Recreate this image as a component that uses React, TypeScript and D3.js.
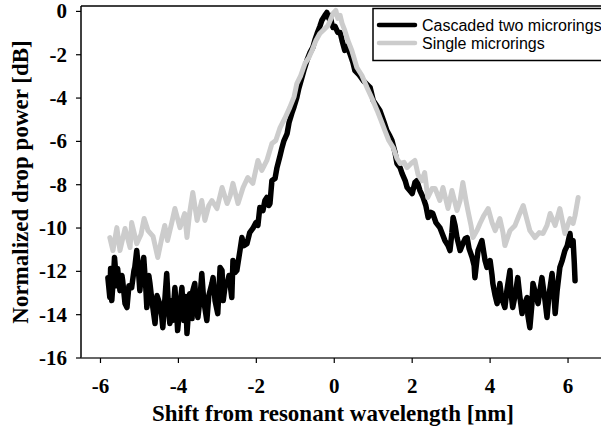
import React from "react";
import * as d3 from "d3";

// [shift nm, normalized drop power dB]
const cascaded: [number, number][] = [
  [-5.81, -12.29], [-5.76, -13.21], [-5.74, -11.87], [-5.71, -13.35], [-5.66, -12.06], [-5.64, -11.36],
  [-5.58, -12.66], [-5.56, -11.87], [-5.5, -12.89], [-5.45, -12.19], [-5.43, -12.43], [-5.37, -13.49],
  [-5.32, -13.67], [-5.27, -12.66], [-5.2, -12.75], [-5.14, -11.96], [-5.12, -11.82], [-5.07, -11.04],
  [-5.04, -11.59], [-4.99, -12.89], [-4.94, -11.96], [-4.89, -11.36], [-4.84, -12.66], [-4.81, -13.67],
  [-4.76, -12.19], [-4.73, -12.56], [-4.68, -13.35], [-4.6, -14.41], [-4.55, -13.12], [-4.48, -13.49],
  [-4.43, -14.04], [-4.4, -14.6], [-4.35, -13.35], [-4.3, -12.1], [-4.25, -13.81], [-4.22, -14.41],
  [-4.17, -13.35], [-4.15, -14.27], [-4.09, -12.75], [-4.04, -14.04], [-4.02, -14.73], [-3.96, -13.58],
  [-3.91, -12.75], [-3.86, -14.27], [-3.81, -13.16], [-3.78, -14.87], [-3.73, -13.58], [-3.71, -13.03],
  [-3.65, -14.18], [-3.63, -12.89], [-3.58, -12.56], [-3.53, -13.81], [-3.5, -14.13], [-3.45, -13.35],
  [-3.4, -12.1], [-3.35, -13.35], [-3.27, -14.27], [-3.22, -13.12], [-3.14, -12.56], [-3.11, -12.29],
  [-3.06, -13.35], [-2.99, -13.95], [-2.93, -11.82], [-2.88, -11.96], [-2.85, -13.35], [-2.8, -12.66],
  [-2.75, -12.56], [-2.7, -12.19], [-2.63, -13.21], [-2.6, -11.5], [-2.55, -12.06], [-2.5, -11.96],
  [-2.42, -11.04], [-2.37, -10.44], [-2.32, -10.81], [-2.24, -10.72], [-2.17, -10.21], [-2.09, -10.02],
  [-2.01, -9.75], [-1.96, -9.88], [-1.91, -9.05], [-1.83, -9.19], [-1.78, -8.73], [-1.73, -8.59],
  [-1.68, -8.96], [-1.65, -8.87], [-1.6, -7.81], [-1.52, -7.71], [-1.47, -7.21], [-1.39, -6.65],
  [-1.34, -6.28], [-1.29, -5.96], [-1.21, -5.64], [-1.16, -5.13], [-1.09, -4.71], [-1.03, -4.39],
  [-0.96, -3.97], [-0.91, -3.56], [-0.83, -3.05], [-0.78, -2.73], [-0.7, -2.26], [-0.62, -1.89],
  [-0.55, -1.66], [-0.5, -1.34], [-0.44, -1.02], [-0.37, -0.69], [-0.32, -0.42], [-0.24, -0.18],
  [-0.19, -0.05], [-0.14, -0.32], [-0.11, -0.18], [-0.06, -0.6], [-0.03, -0.74], [0.02, -0.69],
  [0.09, -0.97], [0.15, -0.97], [0.2, -1.34], [0.27, -1.8], [0.33, -1.62], [0.4, -1.94],
  [0.48, -2.36], [0.53, -2.73], [0.63, -2.91], [0.74, -3.19], [0.84, -3.37], [0.92, -3.51],
  [1.0, -4.11], [1.07, -4.3], [1.17, -4.57], [1.28, -5.13], [1.35, -5.5], [1.43, -5.77],
  [1.48, -5.96], [1.56, -6.51], [1.61, -7.02], [1.69, -7.21], [1.74, -7.48], [1.82, -7.81],
  [1.87, -8.13], [1.94, -8.27], [2.0, -8.41], [2.07, -7.9], [2.12, -7.81], [2.2, -8.27],
  [2.28, -8.59], [2.35, -8.96], [2.41, -9.51], [2.48, -9.28], [2.53, -9.33], [2.61, -9.75],
  [2.71, -9.98], [2.79, -10.35], [2.84, -10.58], [2.92, -10.81], [2.97, -11.04], [3.02, -10.21],
  [3.05, -9.51], [3.1, -9.88], [3.15, -10.44], [3.2, -10.81], [3.23, -11.04], [3.3, -10.72],
  [3.36, -10.49], [3.41, -10.44], [3.46, -10.95], [3.54, -11.36], [3.59, -11.73], [3.61, -12.29],
  [3.66, -11.5], [3.69, -11.04], [3.74, -10.81], [3.79, -10.58], [3.87, -11.5], [3.92, -11.82],
  [3.97, -11.59], [4.0, -11.5], [4.05, -12.19], [4.07, -12.56], [4.13, -13.12], [4.18, -13.49],
  [4.23, -12.89], [4.25, -12.56], [4.3, -13.26], [4.38, -13.67], [4.43, -12.89], [4.51, -11.96],
  [4.53, -12.89], [4.58, -13.67], [4.64, -13.12], [4.71, -12.29], [4.76, -13.12], [4.82, -13.95],
  [4.87, -13.58], [4.95, -13.21], [4.97, -14.04], [5.02, -14.6], [5.07, -13.58], [5.1, -12.56],
  [5.18, -13.12], [5.23, -13.49], [5.28, -12.89], [5.33, -12.29], [5.41, -13.35], [5.46, -14.13],
  [5.51, -13.12], [5.59, -12.1], [5.64, -13.12], [5.67, -13.95], [5.72, -12.89], [5.79, -11.82],
  [5.85, -11.5], [5.92, -11.04], [5.98, -10.81], [6.05, -10.25], [6.08, -10.81], [6.13, -10.58],
  [6.16, -11.59], [6.18, -12.43],
];

const single: [number, number][] = [
  [-5.76, -10.44], [-5.68, -11.04], [-5.58, -9.98], [-5.5, -11.04], [-5.37, -10.02], [-5.24, -10.9],
  [-5.2, -9.75], [-5.07, -10.72], [-4.96, -10.3], [-4.88, -9.56], [-4.78, -10.12], [-4.65, -10.39],
  [-4.53, -11.36], [-4.43, -10.49], [-4.35, -9.88], [-4.28, -10.58], [-4.17, -9.75], [-4.09, -9.1],
  [-3.96, -9.98], [-3.84, -9.33], [-3.78, -10.44], [-3.71, -9.28], [-3.63, -8.36], [-3.52, -9.65],
  [-3.4, -8.73], [-3.32, -9.65], [-3.22, -8.96], [-3.14, -8.73], [-3.01, -9.1], [-2.88, -8.13],
  [-2.75, -8.87], [-2.67, -8.5], [-2.6, -7.94], [-2.47, -8.87], [-2.34, -8.13], [-2.22, -7.67],
  [-2.09, -7.94], [-1.96, -6.88], [-1.86, -7.34], [-1.73, -6.88], [-1.6, -6.1], [-1.5, -5.96],
  [-1.39, -5.36], [-1.27, -4.94], [-1.14, -4.43], [-1.03, -3.93], [-0.96, -3.33], [-0.86, -2.96],
  [-0.75, -2.4], [-0.65, -2.12], [-0.57, -1.8], [-0.47, -1.34], [-0.37, -1.02], [-0.26, -0.83],
  [-0.16, -0.65], [-0.08, -0.32], [-0.03, -0.09], [0.04, 0.05], [0.09, -0.32], [0.15, -0.18],
  [0.2, -0.55], [0.27, -0.88], [0.35, -1.34], [0.45, -1.8], [0.58, -2.59], [0.71, -2.96],
  [0.84, -3.51], [0.97, -4.02], [1.1, -4.57], [1.2, -5.03], [1.3, -5.5], [1.4, -5.96],
  [1.51, -6.28], [1.61, -6.79], [1.69, -7.02], [1.79, -6.97], [1.87, -7.21], [1.97, -7.02],
  [2.07, -6.88], [2.15, -7.53], [2.25, -7.81], [2.32, -7.44], [2.4, -8.59], [2.51, -8.18],
  [2.59, -8.18], [2.71, -8.73], [2.79, -8.13], [2.92, -9.1], [3.02, -8.27], [3.15, -9.19],
  [3.23, -8.73], [3.3, -7.9], [3.38, -8.73], [3.43, -9.19], [3.51, -9.88], [3.56, -10.44],
  [3.66, -10.12], [3.74, -9.79], [3.84, -9.42], [3.95, -9.1], [4.05, -9.75], [4.13, -10.12],
  [4.25, -9.56], [4.33, -10.21], [4.38, -10.81], [4.51, -10.12], [4.64, -9.88], [4.74, -9.42],
  [4.85, -8.96], [4.95, -9.65], [5.02, -10.12], [5.15, -10.44], [5.26, -10.21], [5.36, -10.25],
  [5.46, -9.88], [5.54, -9.33], [5.67, -9.88], [5.79, -9.1], [5.92, -10.25], [6.05, -9.56],
  [6.13, -9.79], [6.18, -9.42], [6.26, -8.59],
];

const xTicks = [-6, -4, -2, 0, 2, 4, 6];
const yTicks = [0, -2, -4, -6, -8, -10, -12, -14, -16];
const legendLabels = ["Cascaded two microrings", "Single microrings"];

const serif = "'Liberation Serif', 'Times New Roman', serif";
const sans = "'Liberation Sans', Arial, sans-serif";

export default function App() {
  const width = 601;
  const height = 430;
  const left = 81, top = 6, bottom = 358;

  const xScale = d3.scaleLinear().domain([-6.5, 7]).range([left, 607]);
  const yScale = d3.scaleLinear().domain([-16, 0.25]).range([bottom, top]);

  const line = d3.line<[number, number]>()
    .x(d => xScale(d[0]))
    .y(d => yScale(d[1]));

  const colors = ["#000000", "#cccccc"];

  return (
    <svg width={width} height={height} style={{ position: "absolute", left: 0, top: 0, background: "#fff" }}>
      <clipPath id="plot-clip">
        <rect x={left} y={top} width={width - left} height={bottom - top} />
      </clipPath>

      <g clipPath="url(#plot-clip)" fill="none" strokeLinejoin="round" strokeLinecap="round">
        <path d={line(cascaded) ?? ""} stroke={colors[0]} strokeWidth={5.5} />
        <path d={line(single) ?? ""} stroke={colors[1]} strokeWidth={5} />
      </g>

      {/* frame */}
      <path d={`M${left} ${top} H${width}`} stroke="#000" strokeWidth={1.5} />
      <path d={`M${left} ${top} V${bottom}`} stroke="#000" strokeWidth={1.5} />
      <path d={`M${left} ${bottom} H${width}`} stroke="#333" strokeWidth={1.5} />

      {/* y axis */}
      {yTicks.map(t => (
        <g key={t} transform={`translate(0,${yScale(t)})`}>
          <path d={`M${left - 5} 0 H${left}`} stroke="#000" strokeWidth={1.2} />
          <text x={67} y={7} textAnchor="end" fontFamily={serif} fontWeight="bold" fontSize={21}>{t}</text>
        </g>
      ))}

      {/* x axis */}
      {xTicks.map(t => (
        <g key={t} transform={`translate(${xScale(t)},0)`}>
          <path d={`M0 ${bottom} V${bottom + 5}`} stroke="#000" strokeWidth={1.2} />
          <text x={0} y={393} textAnchor="middle" fontFamily={serif} fontWeight="bold" fontSize={21}>{t}</text>
        </g>
      ))}

      <text x={333} y={421} textAnchor="middle" fontFamily={serif} fontWeight="bold" fontSize={23}>
        Shift from resonant wavelength [nm]
      </text>
      <text transform={`translate(28,${(top + bottom) / 2}) rotate(-90)`} textAnchor="middle"
        fontFamily={serif} fontWeight="bold" fontSize={23}>
        Normalized drop power [dB]
      </text>

      {/* legend */}
      <rect x={373} y={8.5} width={240} height={52} fill="#fff" stroke="#000" strokeWidth={1.5} />
      {legendLabels.map((label, i) => (
        <g key={label} transform={`translate(0,${25 + i * 18})`}>
          <path d="M379 0 H415" stroke={colors[i]} strokeWidth={4.5} strokeLinecap="round" />
          <text x={422} y={5.5} fontFamily={sans} fontSize={16}>{label}</text>
        </g>
      ))}
    </svg>
  );
}
